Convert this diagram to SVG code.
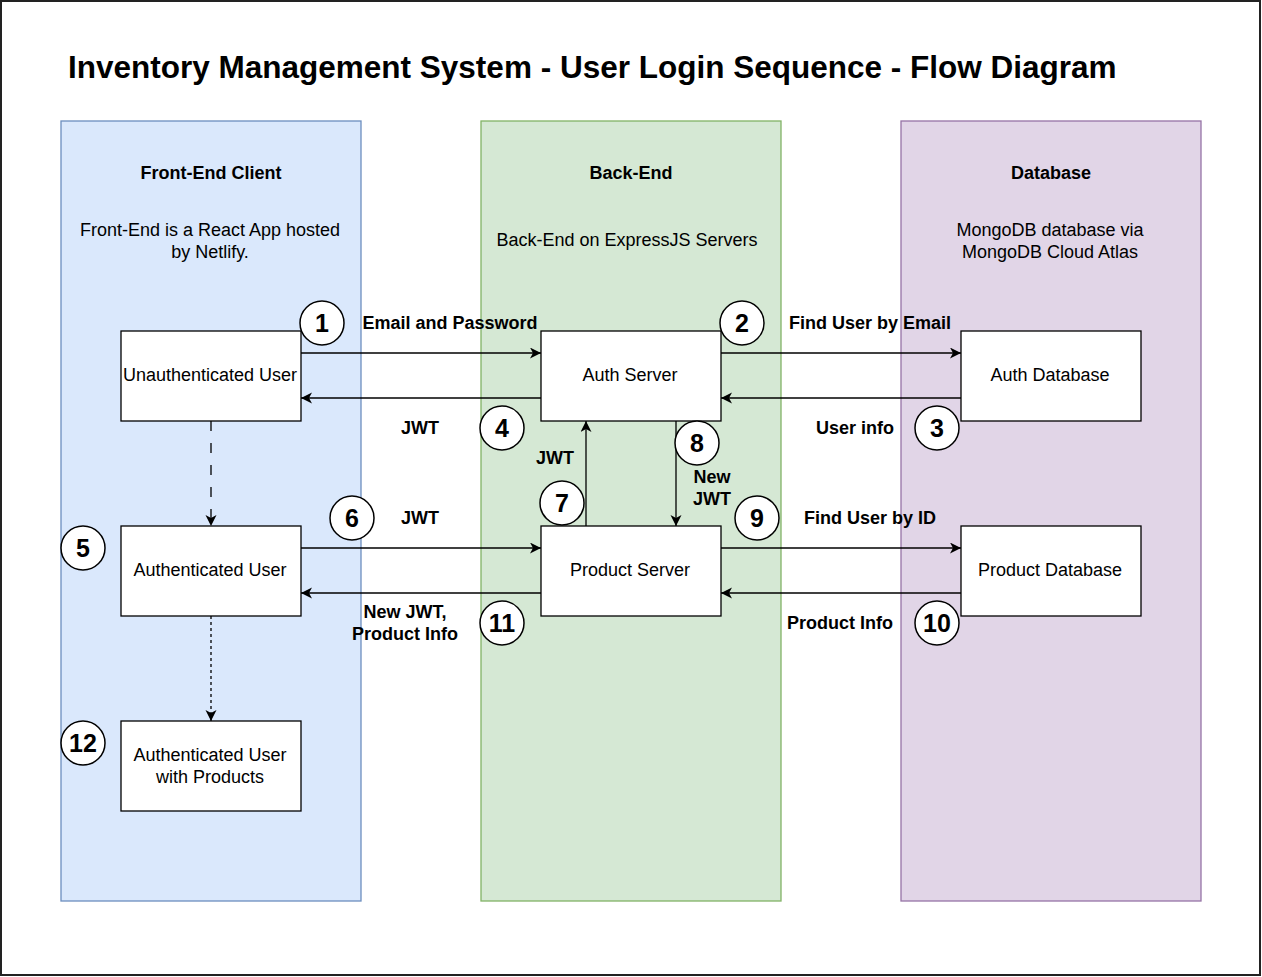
<svg xmlns="http://www.w3.org/2000/svg" width="1262" height="977" viewBox="0 0 1262 977">
<style>
text{font-family:"Liberation Sans",Arial,sans-serif;fill:#000}
.t{font-size:18px;text-anchor:middle}
.b{font-size:18px;font-weight:bold;text-anchor:middle}
.n{font-size:25px;font-weight:bold;text-anchor:middle}
.node{fill:#fff;stroke:#000;stroke-width:1.3}
.circ{fill:#fff;stroke:#000;stroke-width:1.5}
.c{fill:none;stroke:#000;stroke-width:1.3}
</style>
<defs>
<marker id="ah" markerUnits="userSpaceOnUse" markerWidth="12" markerHeight="12" refX="11" refY="5.5" orient="auto">
<path d="M0,0 L11,5.5 L0,11 L3,5.5 Z" fill="#000"/>
</marker>
</defs>
<rect x="1" y="1" width="1259" height="974" fill="#fff" stroke="#222" stroke-width="2"/>
<text x="68" y="78" style="font-size:31.5px;font-weight:bold">Inventory Management System - User Login Sequence - Flow Diagram</text>

<g id="lane-frontend">
<rect x="61" y="121" width="300" height="780" fill="#dae8fc" stroke="#6c8ebf" stroke-width="1.3"/>
<text class="b" x="211" y="179">Front-End Client</text>
<text class="t" x="210" y="236">Front-End is a React App hosted</text>
<text class="t" x="210" y="258">by Netlify.</text>
</g>
<g id="lane-backend">
<rect x="481" y="121" width="300" height="780" fill="#d5e8d4" stroke="#82b366" stroke-width="1.3"/>
<text class="b" x="631" y="179">Back-End</text>
<text class="t" x="627" y="246">Back-End on ExpressJS Servers</text>
</g>
<g id="lane-database">
<rect x="901" y="121" width="300" height="780" fill="#e1d5e7" stroke="#9673a6" stroke-width="1.3"/>
<text class="b" x="1051" y="179">Database</text>
<text class="t" x="1050" y="236">MongoDB database via</text>
<text class="t" x="1050" y="258">MongoDB Cloud Atlas</text>
</g>

<g id="connectors">
<line class="c" x1="301" y1="353" x2="541" y2="353" marker-end="url(#ah)"/>
<line class="c" x1="541" y1="398" x2="301" y2="398" marker-end="url(#ah)"/>
<line class="c" x1="721" y1="353" x2="961" y2="353" marker-end="url(#ah)"/>
<line class="c" x1="961" y1="398" x2="721" y2="398" marker-end="url(#ah)"/>
<line class="c" x1="301" y1="548" x2="541" y2="548" marker-end="url(#ah)"/>
<line class="c" x1="541" y1="593" x2="301" y2="593" marker-end="url(#ah)"/>
<line class="c" x1="721" y1="548" x2="961" y2="548" marker-end="url(#ah)"/>
<line class="c" x1="961" y1="593" x2="721" y2="593" marker-end="url(#ah)"/>
<line class="c" x1="586" y1="526" x2="586" y2="421" marker-end="url(#ah)"/>
<line class="c" x1="676" y1="421" x2="676" y2="526" marker-end="url(#ah)"/>
<line class="c" x1="211" y1="421" x2="211" y2="526" stroke-dasharray="10 12" marker-end="url(#ah)"/>
<line class="c" x1="211" y1="616" x2="211" y2="721" stroke-dasharray="3 3" marker-end="url(#ah)"/>
<text class="b" x="450" y="329">Email and Password</text>
<text class="b" x="420" y="434">JWT</text>
<text class="b" x="870" y="329">Find User by Email</text>
<text class="b" x="855" y="434">User info</text>
<text class="b" x="555" y="464">JWT</text>
<text class="b" x="712" y="483">New</text>
<text class="b" x="712" y="505">JWT</text>
<text class="b" x="420" y="524">JWT</text>
<text class="b" x="870" y="524">Find User by ID</text>
<text class="b" x="405" y="618">New JWT,</text>
<text class="b" x="405" y="640">Product Info</text>
<text class="b" x="840" y="629">Product Info</text>
</g>

<g id="node-unauth"><rect class="node" x="121" y="331" width="180" height="90"/><text class="t" x="210" y="381">Unauthenticated User</text></g>
<g id="node-authserver"><rect class="node" x="541" y="331" width="180" height="90"/><text class="t" x="630" y="381">Auth Server</text></g>
<g id="node-authdb"><rect class="node" x="961" y="331" width="180" height="90"/><text class="t" x="1050" y="381">Auth Database</text></g>
<g id="node-authuser"><rect class="node" x="121" y="526" width="180" height="90"/><text class="t" x="210" y="576">Authenticated User</text></g>
<g id="node-productserver"><rect class="node" x="541" y="526" width="180" height="90"/><text class="t" x="630" y="576">Product Server</text></g>
<g id="node-productdb"><rect class="node" x="961" y="526" width="180" height="90"/><text class="t" x="1050" y="576">Product Database</text></g>
<g id="node-authuserproducts"><rect class="node" x="121" y="721" width="180" height="90"/><text class="t" x="210" y="761">Authenticated User</text><text class="t" x="210" y="783">with Products</text></g>

<g id="step-1"><circle class="circ" cx="322" cy="323" r="22"/><text class="n" x="322" y="332">1</text></g>
<g id="step-2"><circle class="circ" cx="742" cy="323" r="22"/><text class="n" x="742" y="332">2</text></g>
<g id="step-3"><circle class="circ" cx="937" cy="428" r="22"/><text class="n" x="937" y="437">3</text></g>
<g id="step-4"><circle class="circ" cx="502" cy="428" r="22"/><text class="n" x="502" y="437">4</text></g>
<g id="step-5"><circle class="circ" cx="83" cy="548" r="22"/><text class="n" x="83" y="557">5</text></g>
<g id="step-6"><circle class="circ" cx="352" cy="518" r="22"/><text class="n" x="352" y="527">6</text></g>
<g id="step-7"><circle class="circ" cx="562" cy="503" r="22"/><text class="n" x="562" y="512">7</text></g>
<g id="step-8"><circle class="circ" cx="697" cy="443" r="22"/><text class="n" x="697" y="452">8</text></g>
<g id="step-9"><circle class="circ" cx="757" cy="518" r="22"/><text class="n" x="757" y="527">9</text></g>
<g id="step-10"><circle class="circ" cx="937" cy="623" r="22"/><text class="n" x="937" y="632">10</text></g>
<g id="step-11"><circle class="circ" cx="502" cy="623" r="22"/><text class="n" x="502" y="632">11</text></g>
<g id="step-12"><circle class="circ" cx="83" cy="743" r="22"/><text class="n" x="83" y="752">12</text></g>
</svg>
